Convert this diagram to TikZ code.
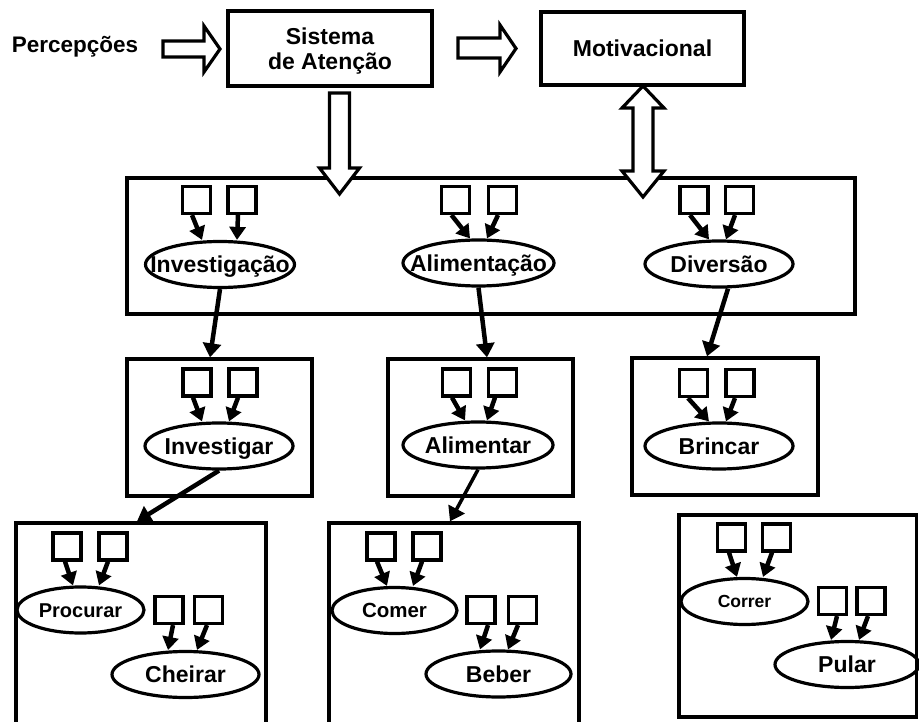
\documentclass[tikz,border=0pt]{standalone}
\usepackage{fontspec}
\setmainfont{Liberation Sans}
\usetikzlibrary{arrows.meta,shapes.geometric,calc}
\newcommand{\lbl}[1]{\makebox[0pt]{#1}}
\begin{document}
\begin{tikzpicture}[x=1pt,y=-1pt,
  txt/.style={font=\bfseries\fontsize{23}{25}\selectfont},
  frame/.style={draw, line width=3.3pt, rectangle, inner sep=0pt, txt},
  sq/.style={draw, line width=3.2pt, rectangle, inner sep=0pt, minimum width=28pt, minimum height=27pt},
  oval/.style={draw, line width=3.2pt, ellipse, inner sep=0pt, minimum height=46pt,
               text height=16.2pt, text depth=0pt, txt},
  feed/.style={line width=4.5pt, -{Triangle[length=13pt,width=16pt]}},
  link/.style={line width=4.5pt, -{Triangle[length=14pt,width=18pt]}},
  block/.style={draw, line width=3.2pt, fill=white, line join=miter}]
\useasboundingbox (0,0) rectangle (919,722);
\clip (0,0) rectangle (919,722);

% ---- top row ----
\node[inner sep=0pt, font=\bfseries\fontsize{22.5}{25}\selectfont, text height=15.8pt, text depth=0pt] (per) at (75,44.5) {Percepções};
\node[frame, minimum width=204pt, minimum height=75pt] (sis) at (330,48.5) {};
\node[txt, align=center, inner sep=0pt] at ($(sis.center)+(0,3)$) {Sistema\\de Atenção};
\node[frame, minimum width=203pt, minimum height=73pt] (mot) at (642.5,48.5) {Motivacional};

% ---- frames ----
\node[frame, minimum width=728pt, minimum height=136pt] (top) at (491,246) {};
\node[frame, minimum width=185pt, minimum height=137pt] (fiv) at (219.5,427.5) {};
\node[frame, minimum width=185pt, minimum height=137pt] (fal) at (480.5,427.5) {};
\node[frame, minimum width=186pt, minimum height=137pt] (fbr) at (725,426.5) {};
\node[frame, minimum width=250pt, minimum height=237pt] (fpr) at (141,641.5) {};
\node[frame, minimum width=250pt, minimum height=237pt] (fco) at (454,641.5) {};
\node[frame, minimum width=237.5pt, minimum height=202pt] (fcr) at (797.75,616) {};

% ---- block arrows ----
\draw[block] (163,41) -- (204,41) -- (204,26) -- (220,49) -- (204,72) -- (204,57) -- (163,57) -- cycle;
\draw[block] (458,38) -- (500,38) -- (500,25) -- (516,48.5) -- (500,72) -- (500,58) -- (458,58) -- cycle;
\draw[block] (329.5,93) -- (349.5,93) -- (349.5,168) -- (359.5,168) -- (339.5,194)
  -- (319.5,168) -- (329.5,168) -- cycle;
\draw[block] (643,86) -- (664,108) -- (653,108) -- (653,171) -- (664,171) -- (643,197)
  -- (622,171) -- (633,171) -- (633,108) -- (622,108) -- cycle;

% ---- behaviour ellipses ----
\node[oval, minimum width=149pt] (inv) at (220,264.5) {\lbl{Investigação}};
\node[oval, minimum width=151pt] (ali) at (478.5,263) {\lbl{Alimentação}};
\node[oval, minimum width=148pt] (div) at (719,264) {\lbl{Diversão}};
\node[oval, minimum width=148pt] (ivr) at (219,446) {\lbl{Investigar}};
\node[oval, minimum width=150pt] (alr) at (478,445) {\lbl{Alimentar}};
\node[oval, minimum width=148pt] (brc) at (719,446) {\lbl{Brincar}};
\node[oval, minimum width=127pt, font=\bfseries\fontsize{20}{24}\selectfont, text height=14.3pt] (pro) at (80.5,610) {\lbl{Procurar}};
\node[oval, minimum width=147pt] (chr) at (185.5,674.5) {\lbl{Cheirar}};
\node[oval, minimum width=125pt, font=\bfseries\fontsize{20.5}{24}\selectfont, text height=14.7pt] (com) at (394.5,610.5) {\lbl{Comer}};
\node[oval, minimum width=145pt] (beb) at (498.5,674) {\lbl{Beber}};
\node[oval, minimum width=127pt, font=\bfseries\fontsize{17.5}{21}\selectfont, text height=12.5pt] (cor) at (744.5,601.5) {\lbl{Correr}};
\node[oval, minimum width=144pt] (pul) at (847,664.5) {\lbl{Pular}};

% ---- stimulus squares ----
\node[sq] (t1a) at (196.5,200) {};
\node[sq] (t1b) at (242,200) {};
\node[sq] (t2a) at (455.5,200) {};
\node[sq] (t2b) at (502.5,200) {};
\node[sq] (t3a) at (694,200) {};
\node[sq] (t3b) at (739.5,200) {};
\node[sq] (m1a) at (197,382.5) {};
\node[sq] (m1b) at (243,382.5) {};
\node[sq] (m2a) at (456.5,382.5) {};
\node[sq] (m2b) at (502.5,382.5) {};
\node[sq] (m3a) at (693.5,383) {};
\node[sq] (m3b) at (740,383) {};
\node[sq] (b1a) at (67,546.5) {};
\node[sq] (b1b) at (113,546.5) {};
\node[sq] (b2a) at (169,610) {};
\node[sq] (b2b) at (208.5,610) {};
\node[sq] (b3a) at (381,546.5) {};
\node[sq] (b3b) at (427,546.5) {};
\node[sq] (b4a) at (481,610) {};
\node[sq] (b4b) at (522.5,610) {};
\node[sq] (b5a) at (731.5,537.5) {};
\node[sq] (b5b) at (776.5,537.5) {};
\node[sq] (b6a) at (832.5,601) {};
\node[sq] (b6b) at (871,601) {};

% ---- squares feeding the ellipses ----
\draw[feed] ($(t1a.south)+(-4.5,0)$) -- ($(inv.north)+(-18,0)$);
\draw[feed] ($(t1b.south)+(-4,0)$) -- ($(inv.north)+(17,0)$);
\draw[feed] ($(t2a.south)+(-4,0)$) -- ($(ali.north)+(-8.5,0)$);
\draw[feed] ($(t2b.south)+(-4.5,0)$) -- ($(ali.north)+(8.5,0)$);
\draw[feed] ($(t3a.south)+(-4,0)$) -- ($(div.north)+(-10,0)$);
\draw[feed] ($(t3b.south)+(-4.5,0)$) -- ($(div.north)+(7,0)$);
\draw[feed] ($(m1a.south)+(-4,0)$) -- ($(ivr.north)+(-17,0)$);
\draw[feed] ($(m1b.south)+(-5,0)$) -- ($(ivr.north)+(10,0)$);
\draw[feed] ($(m2a.south)+(-4.5,0)$) -- ($(alr.north)+(-13,0)$);
\draw[feed] ($(m2b.south)+(-7.5,0)$) -- ($(alr.north)+(9,0)$);
\draw[feed] ($(m3a.south)+(-5.5,0)$) -- ($(brc.north)+(-10,0)$);
\draw[feed] ($(m3b.south)+(-5,0)$) -- ($(brc.north)+(7,0)$);
\draw[feed] ($(b1a.south)+(-2,0)$) -- ($(pro.north)+(-7.5,0)$);
\draw[feed] ($(b1b.south)+(-5,0)$) -- ($(pro.north)+(18.5,0)$);
\draw[feed] ($(b2a.south)+(4,0)$) -- ($(chr.north)+(-17.5,0)$);
\draw[feed] ($(b2b.south)+(-1.5,0)$) -- ($(chr.north)+(11.5,0)$);
\draw[feed] ($(b3a.south)+(-4,0)$) -- ($(com.north)+(-7.5,0)$);
\draw[feed] ($(b3b.south)+(-5,0)$) -- ($(com.north)+(18.5,0)$);
\draw[feed] ($(b4a.south)+(7,0)$) -- ($(beb.north)+(-18.5,0)$);
\draw[feed] ($(b4b.south)+(-4.5,0)$) -- ($(beb.north)+(9.5,0)$);
\draw[feed] ($(b5a.south)+(-2.5,0)$) -- ($(cor.north)+(-7.5,0)$);
\draw[feed] ($(b5b.south)+(-4.5,0)$) -- ($(cor.north)+(18.5,0)$);
\draw[feed] ($(b6a.south)+(4.5,0)$) -- ($(pul.north)+(-16,0)$);
\draw[feed] ($(b6b.south)+(-3,0)$) -- ($(pul.north)+(12,0)$);

% ---- links between levels ----
\draw[link] (inv.south) -- ($(fiv.north)+(-9.5,0)$);
\draw[link] (ali.south) -- ($(fal.north)+(6.5,0)$);
\draw[link] ($(div.south)+(9,0)$) -- ($(fbr.north)+(-18,0)$);
\draw[link] (ivr.south) -- ($(fpr.north)+(-4,0)$);
\draw[link, line width=3.5pt] (alr.south) -- ($(fco.north)+(-4,0)$);
\end{tikzpicture}
\end{document}
